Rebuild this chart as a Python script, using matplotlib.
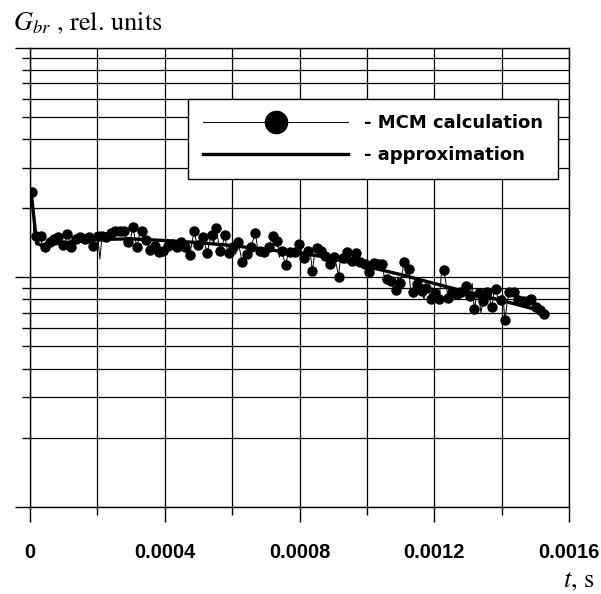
import numpy as np
import matplotlib
matplotlib.use('Agg')
import matplotlib.pyplot as plt
from matplotlib.lines import Line2D
from matplotlib.ticker import MultipleLocator, FuncFormatter, LogLocator, NullFormatter

# MCM calculation: values at the marked points (every other sample)
mcm_marked = [2.358, 1.508, 1.508, 1.360, 1.420, 1.474, 1.493, 1.387, 1.545, 1.360,
              1.474, 1.493, 1.474, 1.493, 1.374, 1.518, 1.518, 1.493, 1.554, 1.585,
              1.585, 1.585, 1.429, 1.650, 1.350, 1.596, 1.458, 1.319, 1.374, 1.284,
              1.306, 1.374, 1.397, 1.360, 1.420, 1.360, 1.255, 1.585, 1.387, 1.493,
              1.272, 1.534,
              1.640, 1.297, 1.534, 1.277, 1.350, 1.420, 1.162, 1.264, 1.350, 1.560,
              1.306, 1.284, 1.360, 1.508, 1.444, 1.306, 1.132, 1.284, 1.284, 1.397,
              1.214, 1.297, 1.062, 1.342, 1.297, 1.243, 1.144, 1.222, 1.007, 1.214,
              1.284, 1.182, 1.272, 1.162, 1.144, 1.051, 1.150,
              1.144, 1.144, 0.984, 0.961, 0.882, 0.942, 1.162, 1.088, 0.861, 0.936,
              0.875, 0.899, 0.806, 0.852, 0.806, 1.077, 0.810, 0.861, 0.847, 0.861,
              0.911, 0.824, 0.724, 0.852, 0.787, 0.861, 0.741, 0.890, 0.798, 0.648,
              0.861, 0.861, 0.792, 0.787, 0.787, 0.806, 0.741, 0.722, 0.688]
# samples in between the marked ones
mcm_between = [1.46, 1.40, 1.30, 1.38, 1.45, 1.47, 1.44, 1.40, 1.50, 1.44,
               1.46, 1.45, 1.42, 1.48, 1.45, 1.20, 1.50, 1.47, 1.52, 1.54,
               1.56, 1.50, 1.46, 1.48, 1.52, 1.43, 1.40, 1.34, 1.30,
               1.33,
               1.30, 1.36, 1.38, 1.33, 1.40, 1.22, 1.40, 1.44, 1.36, 1.39, 1.42,
               1.40,
               1.45, 1.38, 1.34, 1.33, 1.26, 1.30, 1.25, 1.33, 1.45, 1.34,
               1.30, 1.31, 1.42, 1.40, 1.22, 1.20, 1.30, 1.28, 1.26, 1.31,
               1.16, 1.30, 1.25, 1.28, 1.20, 1.23, 1.10, 1.13, 1.25, 1.15,
               1.24, 1.25, 1.12, 1.20, 1.08, 1.16,
               1.13,
               1.10, 0.98, 1.02, 0.90, 1.00, 1.04, 1.00, 0.86, 0.92, 0.94,
               0.80, 0.88, 0.90, 0.86, 1.05, 0.95, 0.82, 0.86, 0.90, 0.86,
               0.88, 0.94, 0.83, 0.70, 0.82, 0.80, 0.86, 0.76, 0.84, 0.78,
               0.87, 0.83, 0.80, 0.76, 0.79, 0.74, 0.71, 0.70]
mcm_t0 = 0.000006
mcm_dt = 0.0000065

approx_t = [0.000003, 0.00002, 0.00004, 0.0001, 0.0002, 0.0003, 0.0004, 0.0005,
            0.0006, 0.0007, 0.0008, 0.0009, 0.001, 0.0011, 0.0012, 0.0013,
            0.0014, 0.0015, 0.00152]
approx_v = [2.38, 1.40, 1.37, 1.415, 1.46, 1.47, 1.444, 1.415, 1.374, 1.318,
            1.278, 1.206, 1.113, 1.027, 0.939, 0.860, 0.792, 0.724, 0.702]

mcm_v = np.empty(len(mcm_marked) + len(mcm_between))
mcm_v[::2] = mcm_marked
mcm_v[1::2] = mcm_between
mcm_t = mcm_t0 + mcm_dt * np.arange(len(mcm_v))

plt.rcParams['mathtext.fontset'] = 'stix'

fig = plt.figure(figsize=(6.01, 5.94), dpi=100)
ax = fig.add_axes([30 / 601, 1 - 506.7 / 594, 539 / 601, 459 / 594])

ax.plot(mcm_t, mcm_v, color='black', lw=0.7, marker='o', ms=6.5,
        markevery=2, zorder=3)
ax.plot(approx_t, approx_v, color='black', lw=2.4, zorder=4)

ax.set_yscale('log')
ax.set_ylim(0.1, 10)
ax.set_xlim(0, 0.0016)

ax.yaxis.set_major_locator(LogLocator(base=10, numticks=5))
ax.yaxis.set_minor_locator(LogLocator(base=10, subs=np.arange(2, 10), numticks=20))
ax.yaxis.set_major_formatter(NullFormatter())
ax.yaxis.set_minor_formatter(NullFormatter())

ax.xaxis.set_major_locator(MultipleLocator(0.0004))
ax.xaxis.set_minor_locator(MultipleLocator(0.0002))
ax.xaxis.set_major_formatter(FuncFormatter(lambda v, p: '0' if abs(v) < 1e-12 else f'{v:.4f}'))

ax.tick_params(axis='both', which='major', direction='out', length=11, width=1,
               color='black')
ax.tick_params(axis='both', which='minor', direction='out', length=6, width=1,
               color='black')
ax.tick_params(axis='x', which='major', pad=15)
for lab in ax.get_xticklabels():
    lab.set_fontfamily('Liberation Sans')
    lab.set_fontweight('bold')
    lab.set_fontsize(14.5)

ax.grid(True, which='both', axis='both', color='black', lw=0.9)
for s in ax.spines.values():
    s.set_color('black')
    s.set_linewidth(1)

h1 = Line2D([], [], color='black', lw=0.7, marker='o', ms=16)
h2 = Line2D([], [], color='black', lw=2.4)
leg = ax.legend([h1, h2], ['- MCM calculation', '- approximation'],
                loc='upper left', bbox_to_anchor=(188 / 601, 1 - 99 / 594),
                bbox_transform=fig.transFigure, borderaxespad=0,
                numpoints=1, handlelength=8.0, handletextpad=0.9,
                labelspacing=0.75, borderpad=0.85, fancybox=False,
                framealpha=1, edgecolor='black',
                prop={'family': 'DejaVu Sans', 'weight': 'bold', 'size': 13})
leg.get_frame().set_linewidth(1)
leg.set_zorder(10)

fig.text(13 / 601, 1 - 30 / 594, r'$G_{br}$ , rel. units', fontsize=19,
         family='STIXGeneral', ha='left', va='baseline')
fig.text(595 / 601, 1 - 587 / 594, r'$t$, s', fontsize=19,
         family='STIXGeneral', ha='right', va='baseline')

fig.savefig('out.png', dpi=100)
